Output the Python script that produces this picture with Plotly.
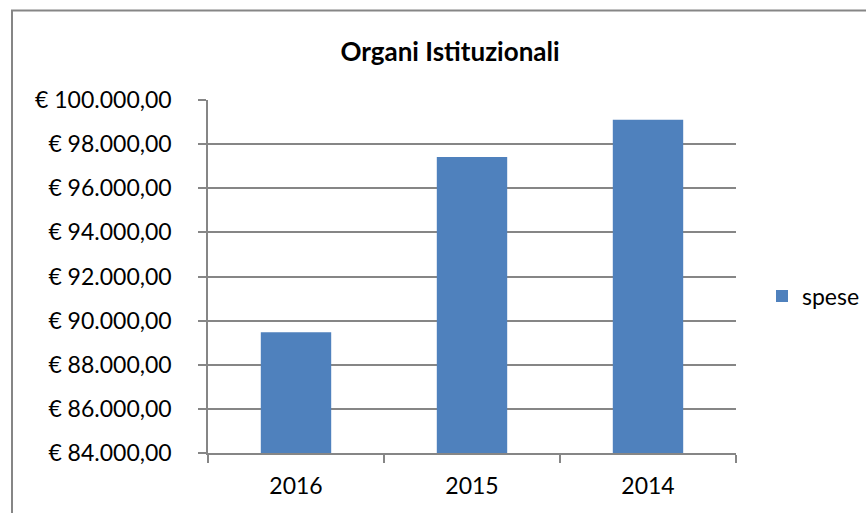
import plotly.graph_objects as go

categories = ["2016", "2015", "2014"]
spese = [89470, 97420, 99100]
series_name = "spese"
title_text = "Organi Istituzionali"

W, H = 866, 513
L, R, T, B = 208, 130, 100, 60
pw, ph = W - L - R, H - T - B

def px_x(px):
    return (px - L) / pw

def px_y(py):
    return (H - B - py) / ph

FONT = "Lato, Carlito, Calibri, 'Open Sans', sans-serif"
GRAY = "#868686"

fig = go.Figure()
fig.add_trace(go.Bar(
    x=categories, y=spese, name=series_name,
    marker=dict(color="#4F81BD", line=dict(width=0)),
    showlegend=True,
))

fig.update_layout(
    width=W, height=H,
    margin=dict(l=L, r=R, t=T, b=B, autoexpand=False),
    paper_bgcolor="white", plot_bgcolor="white",
    separators=",.",
    bargap=0.6,
    font=dict(family=FONT, color="#000000", size=22),
    title=dict(text="<b>" + title_text + "</b>", x=450 / W, xanchor="center",
               y=(H - 52) / H, yanchor="middle", yref="container",
               font=dict(family=FONT, size=26, color="#000000")),
    showlegend=True,
    legend=dict(x=px_x(762), xanchor="left", y=px_y(296), yanchor="middle",
                font=dict(family=FONT, size=23), bgcolor="rgba(0,0,0,0)",
                itemwidth=30),
    xaxis=dict(type="category", showline=True, linecolor=GRAY, linewidth=1.5,
               ticks="outside", tickson="boundaries", ticklen=8, tickcolor=GRAY,
               tickwidth=1.5, showgrid=False, tickfont=dict(size=23),
               ticklabelstandoff=12, range=[-0.5, 2.5]),
    yaxis=dict(range=[84000, 100000], dtick=2000, tick0=84000,
               tickprefix="€ ", tickformat=",.2f",
               showline=True, linecolor=GRAY, linewidth=1.5,
               ticks="outside", ticklen=8, tickcolor=GRAY, tickwidth=1.5,
               showgrid=True, gridcolor=GRAY, gridwidth=1.5,
               zeroline=False, tickfont=dict(size=23), ticklabelstandoff=22),
    shapes=[dict(type="rect", xref="paper", yref="paper",
                 x0=px_x(12), x1=px_x(880), y0=px_y(530), y1=px_y(10.5),
                 line=dict(color=GRAY, width=2), fillcolor="rgba(0,0,0,0)",
                 layer="below")],
)

fig.write_html(
    "out.html",
    config={"displayModeBar": False},
    post_script="document.body.style.margin='0';document.body.style.overflow='hidden';",
)
